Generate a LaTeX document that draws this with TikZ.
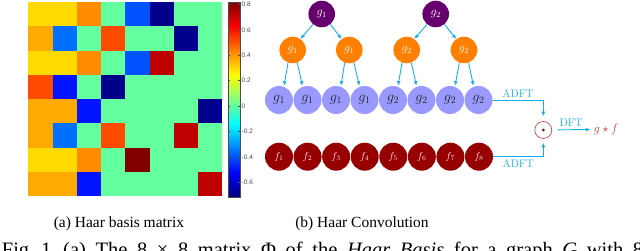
\documentclass[tikz,border=0pt]{standalone}
\usepackage{fontspec}
\usepackage{tikz}
\usetikzlibrary{arrows.meta}
\usepackage{xcolor}
\newfontfamily\capfont{Liberation Serif}
\newfontfamily\barfont{Liberation Sans}

% matrix colours
\definecolor{hyellow}{RGB}{255,218,0}
\definecolor{horange}{RGB}{255,170,0}
\definecolor{hamber}{RGB}{255,140,0}
\definecolor{hred}{RGB}{255,75,0}
\definecolor{hgreen}{RGB}{100,255,158}
\definecolor{hsky}{RGB}{0,112,255}
\definecolor{hblue}{RGB}{0,82,255}
\definecolor{hdeep}{RGB}{0,20,255}
\definecolor{hnavy}{RGB}{0,0,140}
\definecolor{hcrim}{RGB}{190,0,0}
\definecolor{hmaroon}{RGB}{128,0,0}
% node colours
\definecolor{rootpurple}{RGB}{102,0,110}
\definecolor{midorange}{RGB}{255,128,0}
\definecolor{leaflav}{RGB}{153,153,255}
\definecolor{sigred}{RGB}{150,0,0}
\definecolor{flowcyan}{RGB}{20,175,235}
\definecolor{prodred}{RGB}{195,55,55}
% jet colour bar
\definecolor{jdark}{rgb}{0,0,0.5}
\definecolor{jblue}{rgb}{0,0,1}
\definecolor{jcyan}{rgb}{0,1,1}
\definecolor{jyellow}{rgb}{1,1,0}
\definecolor{jred}{rgb}{1,0,0}
\definecolor{jbrown}{rgb}{0.5,0,0}
\pgfdeclareverticalshading{jetbar}{100bp}{color(0bp)=(jdark); color(25bp)=(jdark);
  color(31.25bp)=(jblue); color(43.75bp)=(jcyan); color(56.25bp)=(jyellow);
  color(68.75bp)=(jred); color(75bp)=(jbrown); color(100bp)=(jbrown)}

\begin{document}
\begin{tikzpicture}[x=1pt,y=-1pt,>=Latex,
  rootnode/.style={circle,fill=rootpurple,text=white,minimum size=26.6pt,inner sep=0pt,font=\fontsize{12}{14}\selectfont},
  halfnode/.style={circle,fill=midorange,text=white,minimum size=26.6pt,inner sep=0pt,font=\fontsize{12}{14}\selectfont},
  leafnode/.style={circle,fill=leaflav,text=black!85,minimum size=28pt,inner sep=0pt,font=\fontsize{14}{16}\selectfont},
  signode/.style={circle,fill=sigred,text=white!90!red,minimum size=28pt,inner sep=0pt,font=\fontsize{10}{12}\selectfont},
  flow/.style={->,flowcyan,line width=0.9pt,>={Latex[length=4.5pt,width=4pt]}},
  oplabel/.style={font=\fontsize{11}{13}\selectfont,inner sep=2.5pt},
  captext/.style={font=\capfont\fontsize{15.5}{18}\selectfont,inner sep=0pt,anchor=base},
  figtext/.style={font=\capfont\fontsize{20.5}{24}\selectfont,inner sep=0pt,anchor=base west}]
\useasboundingbox (0,0) rectangle (640,250);
\clip (0,0) rectangle (640,250);
\fill[white] (0,0) rectangle (640,250);
% (a) Haar basis matrix
\foreach \row [count=\i from 0] in {
  {hyellow,hyellow,hamber,hgreen,hblue,hnavy,hgreen,hgreen},
  {horange,hsky,hgreen,hred,hgreen,hgreen,hnavy,hgreen},
  {hyellow,hyellow,hamber,hgreen,hblue,hcrim,hgreen,hgreen},
  {hred,hdeep,hgreen,hnavy,hgreen,hgreen,hgreen,hgreen},
  {horange,horange,hdeep,hgreen,hgreen,hgreen,hgreen,hnavy},
  {horange,hsky,hgreen,hred,hgreen,hgreen,hcrim,hgreen},
  {hyellow,hyellow,hamber,hgreen,hmaroon,hgreen,hgreen,hgreen},
  {horange,horange,hdeep,hgreen,hgreen,hgreen,hgreen,hcrim}}
  \foreach \c [count=\j from 0] in \row
    \fill[\c] ({28.3+24.25*\j},{2+24.25*\i}) rectangle ++(24.25,24.25);
\shade[shading=jetbar] (228.3,2) rectangle (240,197);
\draw[gray!60!black,line width=0.5pt] (228.3,2) rectangle (240,197);
\foreach \v/\t in {0.8/0.8,0.6/0.6,0.4/0.4,0.2/0.2,0/0,-0.2/-0.2,-0.4/-0.4,-0.6/-0.6}{
  \draw[gray!60!black,line width=0.3pt] (240,{106-127*\v}) -- ++(-1.8,0);
  \draw[gray!60!black,line width=0.3pt] (228.3,{106-127*\v}) -- ++(1.8,0);
  \node[anchor=west,inner sep=0pt,text=black!70,font=\barfont\fontsize{6.5}{7}\selectfont] at (241.5,{106-127*\v}) {\t};
}
% (b) Haar convolution
\node[rootnode] (r1) at (321.7,14) {$g_1$};
\node[rootnode] (r2) at (435.7,14) {$g_2$};
\node[halfnode] (m1) at (292.7,50) {$g_1$};
\node[halfnode] (m2) at (349.3,50) {$g_1$};
\node[halfnode] (m3) at (406.7,50) {$g_2$};
\node[halfnode] (m4) at (464,50) {$g_2$};
\foreach \i/\k in {1/1,2/1,3/1,4/1,5/2,6/2,7/2,8/2}
  \node[leafnode] (l\i) at ({279+28.5*(\i-1)},100) {$g_\k$};
\foreach \i in {1,...,8}
  \node[signode] (f\i) at ({279+28.57*(\i-1)},156.7) {$f_\i$};
\draw[flow] (r1.230) -- (m1.55);
\draw[flow] (r1.310) -- (m2.125);
\draw[flow] (r2.230) -- (m3.55);
\draw[flow] (r2.310) -- (m4.125);
\foreach \m/\a/\b in {1/1/2,2/3/4,3/5/6,4/7/8}{
  \draw[flow,shorten >=1pt] (m\m.250) -- (l\a.70);
  \draw[flow,shorten >=1pt] (m\m.290) -- (l\b.110);
}
\node[circle,draw=prodred,line width=0.6pt,minimum size=17pt,inner sep=0pt] (prod) at (543.3,130) {};
\fill[sigred] (prod.center) circle (1.5);
\node[text=prodred,font=\fontsize{12}{14}\selectfont] (gf) at (606,129.3) {$g\star f$};
\draw[flow,shorten >=5pt] (l8.east) -| node[oplabel,above,pos=0.25] {ADFT} (prod.north);
\draw[flow,shorten >=4pt] (f8.east) -| node[oplabel,below,pos=0.25] {ADFT} (prod.south);
\draw[flow,shorten <=5.5pt] (prod) -- node[oplabel,above] {DFT} (gf);
% captions
\node[captext] (capa) at (119,227.5) {(a) Haar basis matrix};
\node[captext] (capb) at (362,227.5) {(b) Haar Convolution};
\node[figtext] (fig) at (1.7,256.3) {Fig. 1.};
\node[figtext] (figline) at (63,256.3) {\makebox[580pt][s]{(a) The 8 × 8 matrix Φ of the \textit{Haar Basis} for a graph \textit{G} with 8}};
\end{tikzpicture}
\end{document}
